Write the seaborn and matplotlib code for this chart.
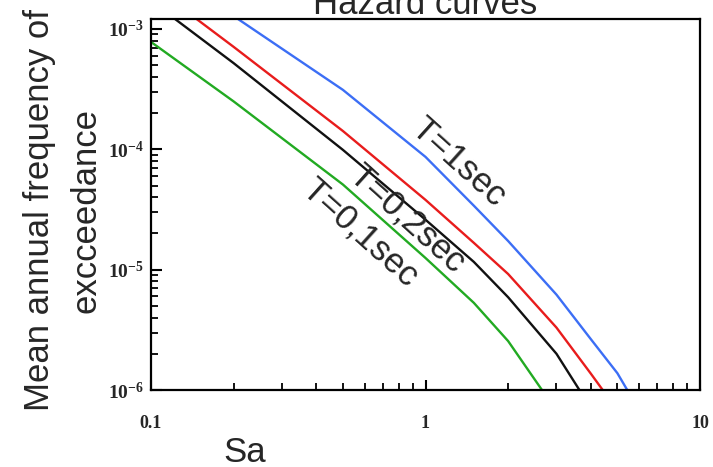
import numpy as np
import pandas as pd
import matplotlib
matplotlib.use("Agg")
import matplotlib.pyplot as plt
import matplotlib.ticker as mticker
from matplotlib.font_manager import FontProperties
import seaborn as sns

# ---- data ----
sa = [0.1, 0.2, 0.5, 1.0, 1.5, 2.0, 3.0, 4.0, 5.0, 6.0]
rate_T1 = [3.75e-3, 1.28e-3, 3.12e-4, 8.65e-5, 3.4e-5, 1.73e-5, 6.2e-6, 2.65e-6, 1.38e-6, 6.8e-7]
rate_T02s_red = [2.33e-3, 7.1e-4, 1.42e-4, 3.8e-5, 1.67e-5, 9.2e-6, 3.3e-6, 1.37e-6, 6.8e-7, 4.0e-7]
rate_T02 = [1.71e-3, 5.2e-4, 9.9e-5, 2.6e-5, 1.16e-5, 5.9e-6, 2.0e-6, 7.1e-7, 3.0e-7, 2.0e-7]
rate_T01 = [7.8e-4, 2.5e-4, 5.1e-5, 1.25e-5, 5.3e-6, 2.55e-6, 6.7e-7, 2.0e-7, 1.0e-7, 6.0e-8]
series_names = ["T=1sec", "red", "T=0,2sec", "T=0,1sec"]
series_colors = ["#3c6ef5", "#e81c1c", "#111111", "#22aa22"]
x_ticks = [0.1, 1, 10]
x_ticklabels = ["0.1", "1", "10"]
y_ticks = [1e-6, 1e-5, 1e-4, 1e-3]
y_ticklabels = [r"$\mathregular{10^{-6}}$", r"$\mathregular{10^{-5}}$",
                r"$\mathregular{10^{-4}}$", r"$\mathregular{10^{-3}}$"]

rows = []
for name, vals in zip(series_names, [rate_T1, rate_T02s_red, rate_T02, rate_T01]):
    for s, v in zip(sa, vals):
        rows.append({"Sa": s, "rate": v, "T": name})
df = pd.DataFrame(rows)

sns.set_style("white")
plt.rcParams["font.family"] = ["Liberation Sans", "DejaVu Sans"]
plt.rcParams["mathtext.fontset"] = "custom"
plt.rcParams["mathtext.rm"] = "Liberation Serif:bold"
plt.rcParams["mathtext.it"] = "Liberation Serif:bold"
plt.rcParams["mathtext.bf"] = "Liberation Serif:bold"

fig = plt.figure(figsize=(7.13, 4.67), dpi=100)
ax = fig.add_axes([151 / 713, 77 / 467, 549 / 713, 371 / 467])

sns.lineplot(data=df, x="Sa", y="rate", hue="T", hue_order=series_names,
             palette=dict(zip(series_names, series_colors)), estimator=None,
             sort=True, legend=False, linewidth=1.7, ax=ax)

ax.set_xscale("log")
ax.set_yscale("log")
ax.set_xlim(0.1, 10)
ax.set_ylim(1e-6, 1.21e-3)

tick_font_x = FontProperties(family="Liberation Serif", weight="bold", size=13)
tick_font_y = FontProperties(family="Liberation Serif", weight="bold", size=14)

ax.xaxis.set_major_locator(mticker.FixedLocator(x_ticks))
ax.xaxis.set_minor_locator(mticker.LogLocator(base=10, subs=np.arange(2, 10), numticks=20))
ax.xaxis.set_minor_formatter(mticker.NullFormatter())
ax.set_xticklabels(x_ticklabels)
for t in ax.get_xticklabels():
    t.set_fontproperties(tick_font_x)
ax.yaxis.set_major_locator(mticker.FixedLocator(y_ticks))
ax.yaxis.set_minor_locator(mticker.LogLocator(base=10, subs=np.arange(2, 10), numticks=20))
ax.yaxis.set_minor_formatter(mticker.NullFormatter())
ax.set_yticklabels(y_ticklabels)
for t in ax.get_yticklabels():
    t.set_fontproperties(tick_font_y)

ax.tick_params(axis="both", which="both", direction="in", bottom=True, left=True,
               top=False, right=False, color="black")
ax.tick_params(axis="x", which="major", length=7, width=1.5, pad=18)
ax.tick_params(axis="x", which="minor", length=5, width=1.3)
ax.tick_params(axis="y", which="major", length=8, width=1.5, pad=5)
ax.tick_params(axis="y", which="minor", length=5, width=1.3)
for sp in ax.spines.values():
    sp.set_visible(True)
    sp.set_color("black")
    sp.set_linewidth(1.6)

ax.set_xlabel("")
ax.set_ylabel("")

# curve labels
lab_kw = dict(fontsize=25, ha="center", va="center", rotation=-42, rotation_mode="anchor")
fig.text(458 / 713, 1 - 162 / 467, "T=1sec", **lab_kw)
fig.text(407 / 713, 1 - 219 / 467, "T=0,2sec", **lab_kw)
fig.text(360 / 713, 1 - 233 / 467, "T=0,1sec", **lab_kw)

fig.text(425 / 713, 1 - 14 / 467, "Hazard curves", fontsize=25, ha="center", va="baseline")
fig.text(245 / 713, 1 - 462 / 467, "Sa", fontsize=25, ha="center", va="baseline")
fig.text(63 / 713, 1 - 210 / 467, "Mean annual frequency of\nexcceedance", fontsize=25,
         ha="center", va="center", rotation=90, multialignment="center", linespacing=1.5)

fig.savefig("out.png", dpi=100)
